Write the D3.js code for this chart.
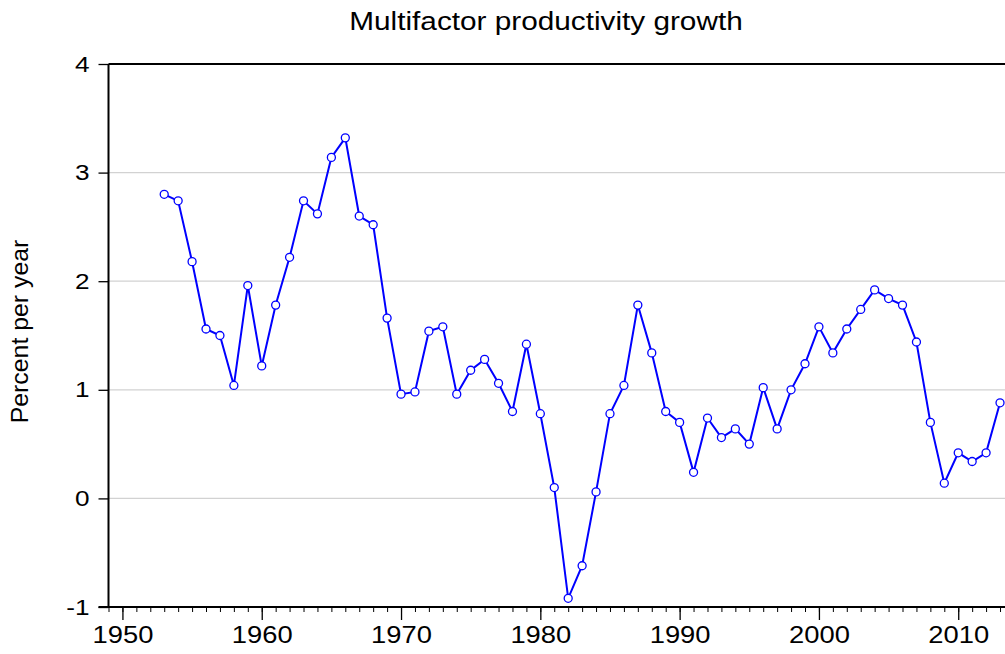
<!DOCTYPE html>
<html>
<head>
<meta charset="utf-8">
<script src="https://cdn.jsdelivr.net/npm/d3@7"></script>
<style>
  body { margin: 0; background: #fff; }
  text { font-family: "Liberation Sans", Arial, sans-serif; fill: #000; }
</style>
</head>
<body>
<div id="chart"></div>
<script>
// Multifactor productivity growth, percent per year
const years = d3.range(1953, 2014);
const growth = [
  2.80, 2.74, 2.18, 1.56, 1.50, 1.04, 1.96, 1.22, 1.78, 2.22,
  2.74, 2.62, 3.14, 3.32, 2.60, 2.52, 1.66, 0.96, 0.98, 1.54,
  1.58, 0.96, 1.18, 1.28, 1.06, 0.80, 1.42, 0.78, 0.10, -0.92,
  -0.62, 0.06, 0.78, 1.04, 1.78, 1.34, 0.80, 0.70, 0.24, 0.74,
  0.56, 0.64, 0.50, 1.02, 0.64, 1.00, 1.24, 1.58, 1.34, 1.56,
  1.74, 1.92, 1.84, 1.78, 1.44, 0.70, 0.14, 0.42, 0.34, 0.42,
  0.88
];
const yTicks = [-1, 0, 1, 2, 3, 4];
const xTicks = [1950, 1960, 1970, 1980, 1990, 2000, 2010];

const data = years.map((y, i) => ({ year: y, value: growth[i] }));

const size = { width: 1005, height: 654 };
const margin = { left: 108.5, top: 64, bottom: 47 };
// text in the original is wider than Arial at that height
const stretch = 1.19;

const svg = d3.select('#chart').append('svg')
  .attr('width', size.width)
  .attr('height', size.height);

// x domain runs past the window edge, the frame is cut off on the right
const xScale = d3.scaleLinear()
  .domain([1949, 2014])
  .range([margin.left, margin.left + 65 * 13.93]);

const yScale = d3.scaleLinear()
  .domain([-1, 4])
  .range([size.height - margin.bottom, margin.top]);

const right = size.width + 20;

// gridlines
svg.append('g')
  .selectAll('line')
  .data(yTicks.filter(d => d > -1 && d < 4))
  .join('line')
  .attr('x1', margin.left)
  .attr('x2', right)
  .attr('y1', d => yScale(d))
  .attr('y2', d => yScale(d))
  .attr('stroke', '#d2d2d2')
  .attr('stroke-width', 1.2);

// y axis
const yAxis = d3.axisLeft(yScale)
  .tickValues(yTicks)
  .tickSize(10)
  .tickPadding(9)
  .tickFormat(d => String(d));

svg.append('g')
  .attr('transform', `translate(${margin.left},0)`)
  .call(yAxis)
  .call(g => g.select('.domain').remove())
  .call(g => g.selectAll('.tick line').attr('stroke', '#000').attr('stroke-width', 1.3))
  .call(g => g.selectAll('.tick text')
    .attr('x', -19 / stretch)
    .attr('transform', `scale(${stretch},1)`)
    .style('font-size', '22px')
    .style('font-family', '"Liberation Sans", Arial, sans-serif'));

// x axis: minor ticks for each year, major every decade
const xMinor = d3.axisBottom(xScale)
  .tickValues(d3.range(1949, 2015))
  .tickSize(5)
  .tickFormat('');

svg.append('g')
  .attr('transform', `translate(0,${yScale(-1)})`)
  .call(xMinor)
  .call(g => g.select('.domain').remove())
  .call(g => g.selectAll('.tick line').attr('stroke', '#000').attr('stroke-width', 1));

const xAxis = d3.axisBottom(xScale)
  .tickValues(xTicks)
  .tickSize(13)
  .tickPadding(7)
  .tickFormat(d3.format('d'));

svg.append('g')
  .attr('transform', `translate(0,${yScale(-1)})`)
  .call(xAxis)
  .call(g => g.select('.domain').remove())
  .call(g => g.selectAll('.tick line').attr('stroke', '#000').attr('stroke-width', 1.3))
  .call(g => g.selectAll('.tick text')
    .attr('transform', `scale(${stretch},1)`)
    .style('font-size', '23px')
    .style('font-family', '"Liberation Sans", Arial, sans-serif'));

// frame
svg.append('line')
  .attr('x1', margin.left - 10).attr('x2', right)
  .attr('y1', yScale(-1)).attr('y2', yScale(-1))
  .attr('stroke', '#000').attr('stroke-width', 2);
svg.append('line')
  .attr('x1', margin.left).attr('x2', right)
  .attr('y1', yScale(4)).attr('y2', yScale(4))
  .attr('stroke', '#000').attr('stroke-width', 2);
svg.append('line')
  .attr('x1', margin.left).attr('x2', margin.left)
  .attr('y1', yScale(4)).attr('y2', yScale(-1))
  .attr('stroke', '#000').attr('stroke-width', 2);

// series
const line = d3.line()
  .x(d => xScale(d.year))
  .y(d => yScale(d.value));

svg.append('path')
  .attr('d', line(data))
  .attr('fill', 'none')
  .attr('stroke', '#0000ff')
  .attr('stroke-width', 2);

svg.append('g')
  .selectAll('circle')
  .data(data)
  .join('circle')
  .attr('cx', d => xScale(d.year))
  .attr('cy', d => yScale(d.value))
  .attr('r', 4)
  .attr('fill', '#fff')
  .attr('stroke', '#0000ff')
  .attr('stroke-width', 1.3);

// title and axis label
svg.append('text')
  .attr('transform', `translate(546,30) scale(${stretch},1)`)
  .attr('text-anchor', 'middle')
  .style('font-size', '25px')
  .text('Multifactor productivity growth');

svg.append('text')
  .attr('transform', 'translate(28,331.5) rotate(-90) scale(1.08,1)')
  .attr('text-anchor', 'middle')
  .style('font-size', '23px')
  .text('Percent per year');
</script>
</body>
</html>
